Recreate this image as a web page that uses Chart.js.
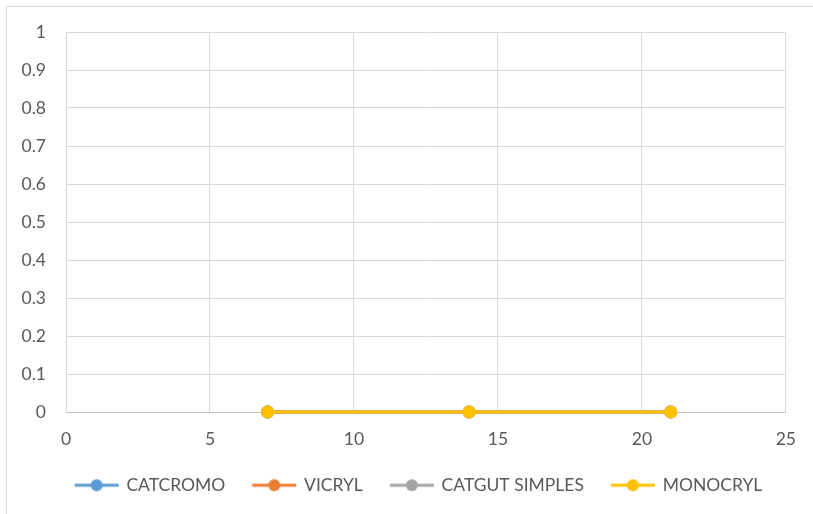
<!DOCTYPE html>
<html>
<head>
<meta charset="utf-8">
<script src="https://cdn.jsdelivr.net/npm/chart.js@4/dist/chart.umd.min.js"></script>
<style>
html,body{margin:0;padding:0;background:#fff;overflow:hidden;}
#wrap{position:relative;width:813px;height:514px;}
#frame{position:absolute;left:6px;top:6px;width:820px;height:520px;border:1px solid #d9d9d9;box-sizing:border-box;}
canvas{position:absolute;left:0;top:0;}
</style>
</head>
<body>
<div id="wrap"><div id="frame"></div><canvas id="c" width="813" height="514"></canvas></div>
<script>
const seriesNames = ['CATCROMO', 'VICRYL', 'CATGUT SIMPLES', 'MONOCRYL'];
const xValues = [7, 14, 21];
const catcromo = [0, 0, 0];
const vicryl = [0, 0, 0];
const catgutSimples = [0, 0, 0];
const monocryl = [0, 0, 0];
const seriesColors = ['#5B9BD5', '#ED7D31', '#A5A5A5', '#FFC000'];
const xTicks = [0, 5, 10, 15, 20, 25];
const yTicks = [0, 0.1, 0.2, 0.3, 0.4, 0.5, 0.6, 0.7, 0.8, 0.9, 1];

const seriesValues = [catcromo, vicryl, catgutSimples, monocryl];
const FONT = { family: 'Lato', size: 17.5 };

function legendIcon(color) {
  const c = document.createElement('canvas');
  c.width = 46; c.height = 16;
  const g = c.getContext('2d');
  g.strokeStyle = color; g.lineWidth = 3;
  g.beginPath(); g.moveTo(1, 8); g.lineTo(45, 8); g.stroke();
  g.fillStyle = color;
  g.beginPath(); g.arc(23, 8, 6, 0, Math.PI * 2); g.fill();
  return c;
}

const datasets = seriesNames.map((name, i) => ({
  label: name,
  data: xValues.map((x, j) => ({ x: x, y: seriesValues[i][j] })),
  showLine: true,
  borderColor: seriesColors[i],
  backgroundColor: seriesColors[i],
  borderWidth: 3,
  pointRadius: 6.5,
  pointHoverRadius: 6.5,
  pointBorderWidth: 0,
  pointStyle: 'circle',
  clip: false,
  legendIcon: legendIcon(seriesColors[i]),
  order: seriesNames.length - i
}));

const legendShift = {
  id: 'legendShift',
  beforeDraw(chart) {
    const lg = chart.legend;
    if (lg && !lg._shifted) { lg.left += 20; lg.right += 20; lg._shifted = true; }
  }
};

new Chart(document.getElementById('c'), {
  type: 'scatter',
  data: { datasets },
  plugins: [legendShift],
  options: {
    responsive: false,
    animation: false,
    layout: { padding: { left: 6, right: 21, top: 32, bottom: 10 } },
    plugins: {
      tooltip: { enabled: false },
      legend: {
        position: 'bottom',
        labels: {
          usePointStyle: true,
          pointStyleWidth: 42,
          padding: 28,
          color: '#595959',
          font: FONT,
          generateLabels(chart) {
            return chart.data.datasets.map((d, i) => ({
              text: d.label,
              pointStyle: d.legendIcon,
              fillStyle: d.borderColor,
              strokeStyle: d.borderColor,
              lineWidth: 0,
              fontColor: '#595959',
              datasetIndex: i,
              hidden: false
            }));
          }
        }
      }
    },
    scales: {
      x: {
        type: 'linear',
        min: 0, max: 25,
        afterBuildTicks(scale) { scale.ticks = xTicks.map(v => ({ value: v })); },
        afterFit(scale) { scale.height = 36.5; },
        grid: { color: '#d9d9d9', lineWidth: 1, drawTicks: false },
        border: { color: '#bfbfbf' },
        ticks: { color: '#595959', font: FONT, padding: 17 }
      },
      y: {
        type: 'linear',
        min: 0, max: 1,
        afterBuildTicks(scale) { scale.ticks = yTicks.map(v => ({ value: v })); },
        afterFit(scale) { scale.width = 60; },
        grid: { color: '#d9d9d9', lineWidth: 1, drawTicks: false },
        border: { color: '#d9d9d9' },
        ticks: { color: '#595959', font: FONT, padding: 20,
          callback: v => String(Math.round(v * 10) / 10) }
      }
    }
  }
});
</script>
</body>
</html>
